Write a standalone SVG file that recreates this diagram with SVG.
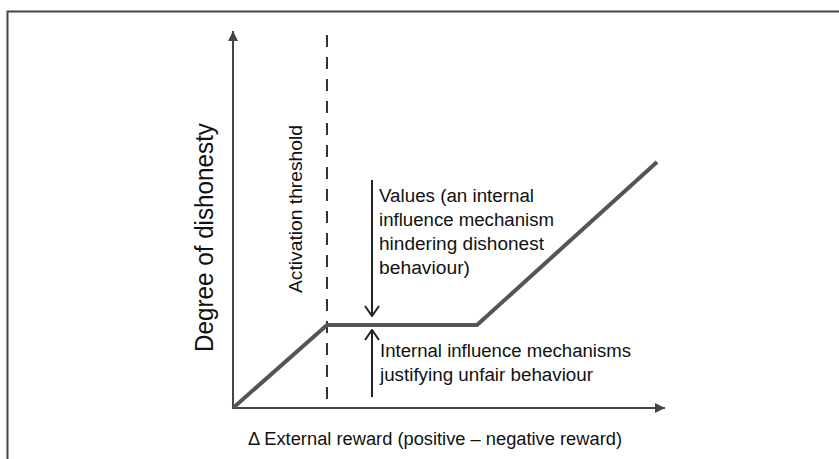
<svg xmlns="http://www.w3.org/2000/svg" width="839" height="459" viewBox="0 0 839 459">
  <style>
    .frame { fill: none; stroke: #444; stroke-width: 2; }
    .axis { fill: none; stroke: #444; stroke-width: 2; }
    .thresh { fill: none; stroke: #333; stroke-width: 2; stroke-dasharray: 12 10; }
    .curve { fill: none; stroke: #555; stroke-width: 4; stroke-linejoin: miter; }
    .force { fill: none; stroke: #222; stroke-width: 2; }
    .lbl { font-family: "Liberation Sans", Arial, sans-serif; fill: #111; }
    .note { font-size: 18px; }
  </style>
  <defs>
    <marker id="solidHead" viewBox="0 0 10 10" refX="10" refY="5" markerWidth="5" markerHeight="5" orient="auto" markerUnits="strokeWidth">
      <path d="M0,0 L10,5 L0,10 Z" fill="#444"/>
    </marker>
    <marker id="openHead" viewBox="0 0 12 16" refX="11" refY="8" markerWidth="6" markerHeight="8" orient="auto" markerUnits="strokeWidth">
      <path d="M1,1 L11,8 L1,15" fill="none" stroke="#222" stroke-width="2"/>
    </marker>
  </defs>

  <rect width="839" height="459" fill="#fff"/>
  <!-- open frame: top and left edges -->
  <path class="frame" d="M7.5,459 V11.5 H839"/>

  <g id="axes">
    <line class="axis" x1="233" y1="408" x2="233" y2="31" marker-end="url(#solidHead)"/>
    <line class="axis" x1="232" y1="408" x2="665" y2="408" marker-end="url(#solidHead)"/>
  </g>

  <g id="threshold">
    <line class="thresh" x1="327" y1="35" x2="327" y2="408"/>
    <text class="lbl" font-size="18" transform="translate(302,293) rotate(-90)" textLength="168" lengthAdjust="spacingAndGlyphs">Activation threshold</text>
  </g>

  <g id="dishonesty-curve">
    <polyline class="curve" points="233,408 327,325 477,325 657,162"/>
  </g>

  <g id="connectors">
    <line class="force" x1="372" y1="180" x2="372" y2="316" marker-end="url(#openHead)"/>
    <line class="force" x1="372" y1="397" x2="372" y2="330" marker-end="url(#openHead)"/>
  </g>

  <g id="values-label">
    <text class="lbl note" x="379" y="202" textLength="155" lengthAdjust="spacingAndGlyphs">Values (an internal</text>
    <text class="lbl note" x="379" y="226" textLength="175" lengthAdjust="spacingAndGlyphs">influence mechanism</text>
    <text class="lbl note" x="379" y="250" textLength="165" lengthAdjust="spacingAndGlyphs">hindering dishonest</text>
    <text class="lbl note" x="379" y="274" textLength="91" lengthAdjust="spacingAndGlyphs">behaviour)</text>
  </g>

  <g id="justification-label">
    <text class="lbl note" x="380" y="357" textLength="251" lengthAdjust="spacingAndGlyphs">Internal influence mechanisms</text>
    <text class="lbl note" x="380" y="381" textLength="213" lengthAdjust="spacingAndGlyphs">justifying unfair behaviour</text>
  </g>

  <g id="axis-labels">
    <text class="lbl" font-size="25" transform="translate(213,352) rotate(-90)" textLength="229" lengthAdjust="spacingAndGlyphs">Degree of dishonesty</text>
    <text class="lbl" font-size="18" x="248" y="445" textLength="374" lengthAdjust="spacingAndGlyphs">Δ External reward (positive – negative reward)</text>
  </g>
</svg>
